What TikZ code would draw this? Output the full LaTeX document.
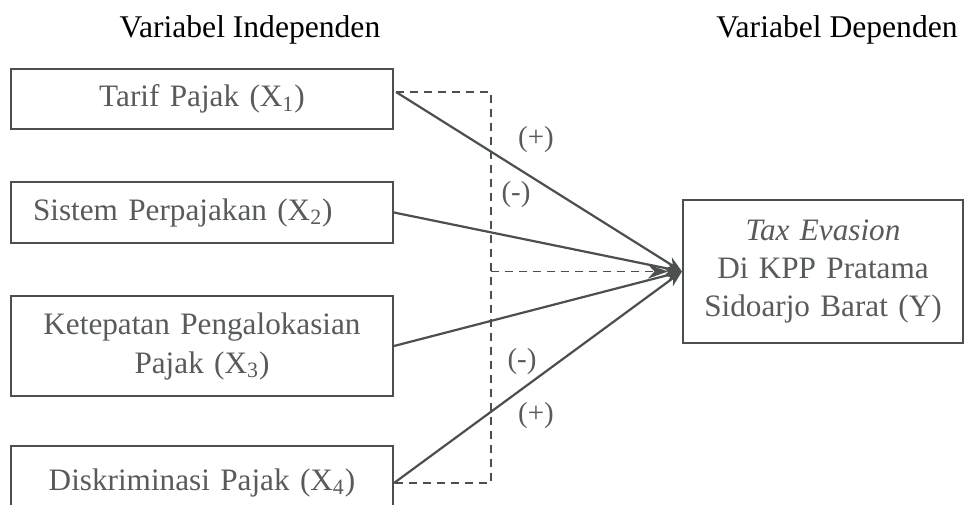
\documentclass[tikz,border=0pt]{standalone}
\usepackage{fontspec}
\setmainfont{Liberation Serif}
\usepackage{xcolor}
\usetikzlibrary{arrows.meta, positioning, calc}
\definecolor{lineC}{HTML}{4A514C}
\definecolor{textC}{HTML}{585C59}
\tikzset{
  varbox/.style={rectangle, draw=lineC, line width=1pt, text width=187pt, inner xsep=2pt, inner ysep=1pt, align=center, text=textC, font=\fontsize{15.6}{19.5}\selectfont},
  depbox/.style={rectangle, draw=lineC, line width=1pt, text width=136pt, inner xsep=2pt, minimum height=71.5pt, align=center, text=textC, font=\fontsize{15.6}{19}\selectfont},
  titletext/.style={anchor=base, text=black, font=\fontsize{15.8}{19}\selectfont},
  sign/.style={text=textC, inner sep=0pt, font=\fontsize{14.5}{17}\selectfont},
  arr/.style={-{Stealth[length=8pt, width=6.5pt]}, draw=lineC, line width=1.1pt},
  dline/.style={draw=lineC, line width=0.9pt, dash pattern=on 4pt off 3pt},
  darr/.style={dline, -{Stealth[length=10pt, width=7pt]}},
}
\begin{document}
\begin{tikzpicture}
  \useasboundingbox[fill=white] (0,0) rectangle (482pt,-252pt);

  % Headings
  \node[titletext] (tind) at (125pt,-18.5pt) {Variabel Independen};
  \node[titletext] (tdep) at (418.5pt,-18.5pt) {Variabel Dependen};

  % Independent variables
  \node[varbox, minimum height=30pt] (x1) at (101pt,-49.5pt) {Tarif Pajak (X\textsubscript{1})};
  \node[varbox, minimum height=30.5pt, text width=169pt, inner xsep=11pt, align=left, below=25.5pt of x1] (x2) {Sistem Perpajakan (X\textsubscript{2})};
  \node[varbox, minimum height=50pt, below=25.5pt of x2] (x3) {Ketepatan Pengalokasian\\Pajak (X\textsubscript{3})};
  \node[varbox, minimum height=37pt, below=24pt of x3] (x4) {Diskriminasi Pajak (X\textsubscript{4})};

  % Dependent variable
  \node[depbox] (y) at (411.5pt,-135.75pt) {\textit{Tax Evasion}\\Di KPP Pratama\\Sidoarjo Barat (Y)};

  \coordinate (t1) at ($(x1.east)+(1pt,3.5pt)$);
  \coordinate (dtop) at ($(x1.east)+(48.5pt,3.5pt)$);
  \coordinate (dend) at ($(y.west)+(-7pt,0)$);

  % Connectors
  \draw[arr] (t1) -- (y.west);
  \draw[arr] (x2.east) -- (y.west);
  \draw[arr] (x3.east) -- (y.west);
  \draw[arr] (x4.east) -- (y.west);
  \draw[dline] (t1) -- (dtop) -- (dtop |- x4.east) -- (x4.east);
  \draw[darr] (dtop |- y.west) -- (dend);

  % Signs
  \node[sign] (s1) at (268pt,-70pt) {(+)};
  \node[sign] (s2) at (258pt,-97.5pt) {(-)};
  \node[sign] (s3) at (261pt,-181pt) {(-)};
  \node[sign] (s4) at (268pt,-208pt) {(+)};
\end{tikzpicture}
\end{document}
